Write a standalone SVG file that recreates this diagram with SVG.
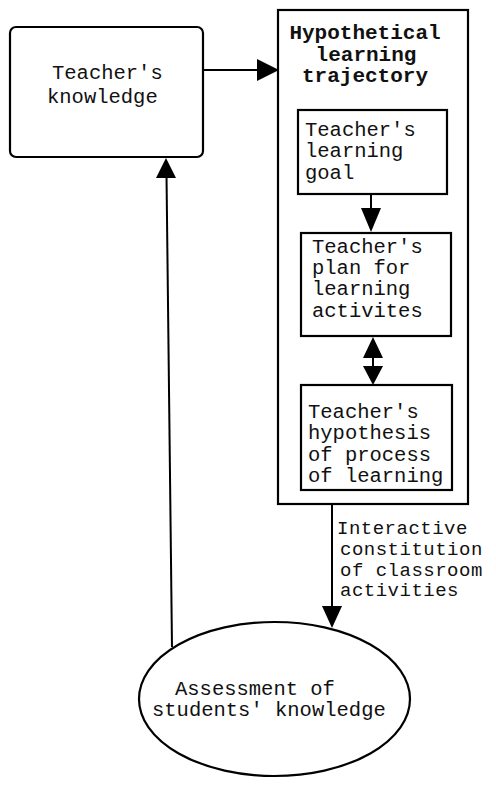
<svg xmlns="http://www.w3.org/2000/svg" width="496" height="797" viewBox="0 0 496 797">
  <defs>
    <style>
      .box { fill: #fff; stroke: #000; stroke-width: 2.2; }
      .frame { fill: none; stroke: #000; stroke-width: 2.2; }
      .txt { font-family: "Liberation Mono", "DejaVu Sans Mono", monospace; font-size: 20.5px; fill: #111; }
      .bold { font-weight: bold; font-size: 21px; }
      .label { font-size: 19px; letter-spacing: 0.5px; }
      .edge { fill: none; stroke: #000; stroke-width: 2; }
      .head { fill: #000; stroke: none; }
    </style>
  </defs>
  <rect width="496" height="797" fill="#fff"/>

  <g id="teacher-knowledge">
    <rect class="box" x="10" y="27" width="193" height="130" rx="6"/>
    <text class="txt" x="52" y="79">Teacher's</text>
    <text class="txt" x="47" y="103">knowledge</text>
  </g>

  <g id="trajectory">
    <rect class="frame" x="278" y="10" width="190" height="494"/>
    <text class="txt bold" x="365" y="39" text-anchor="middle">Hypothetical</text>
    <text class="txt bold" x="366" y="61" text-anchor="middle">learning</text>
    <text class="txt bold" x="365" y="82" text-anchor="middle">trajectory</text>
  </g>

  <g id="learning-goal">
    <rect class="box" x="298" y="110" width="149" height="84"/>
    <text class="txt" x="305" y="136">Teacher's</text>
    <text class="txt" x="305" y="157">learning</text>
    <text class="txt" x="305" y="179">goal</text>
  </g>

  <g id="activity-plan">
    <rect class="box" x="301" y="233" width="150" height="103"/>
    <text class="txt" x="312" y="253">Teacher's</text>
    <text class="txt" x="312" y="274">plan for</text>
    <text class="txt" x="312" y="295">learning</text>
    <text class="txt" x="312" y="317">activites</text>
  </g>

  <g id="learning-hypothesis">
    <rect class="box" x="301" y="385" width="151" height="105"/>
    <text class="txt" x="308" y="418">Teacher's</text>
    <text class="txt" x="308" y="439">hypothesis</text>
    <text class="txt" x="308" y="461">of process</text>
    <text class="txt" x="308" y="482">of learning</text>
  </g>

  <g id="assessment">
    <ellipse class="box" cx="274.5" cy="699" rx="135.5" ry="77"/>
    <text class="txt" x="175" y="695">Assessment of</text>
    <text class="txt" x="152" y="716">students' knowledge</text>
  </g>

  <!-- connectors -->
  <g id="connectors">
    <!-- knowledge -> trajectory -->
    <line class="edge" x1="203" y1="70" x2="262" y2="70"/>
    <polygon class="head" points="279,70 257,59 257,81"/>
    <!-- goal -> plan -->
    <line class="edge" x1="371" y1="195" x2="371" y2="212"/>
    <polygon class="head" points="371,232 361,208 381,208"/>
    <!-- plan <-> hypothesis -->
    <line class="edge" x1="373" y1="350" x2="373" y2="372"/>
    <polygon class="head" points="373,337 363,358 383,358"/>
    <polygon class="head" points="373,385 363,366 383,366"/>
    <!-- trajectory -> assessment -->
    <line class="edge" x1="332" y1="505" x2="332" y2="610"/>
    <polygon class="head" points="332,628 322,606 342,606"/>
    <text class="txt label" x="337" y="534">Interactive</text>
    <text class="txt label" x="340" y="555">constitution</text>
    <text class="txt label" x="340" y="576">of classroom</text>
    <text class="txt label" x="340" y="596">activities</text>
    <!-- assessment -> knowledge -->
    <line class="edge" x1="172" y1="647" x2="166.5" y2="175"/>
    <polygon class="head" points="166,158 156,178 176,178"/>
  </g>
</svg>
